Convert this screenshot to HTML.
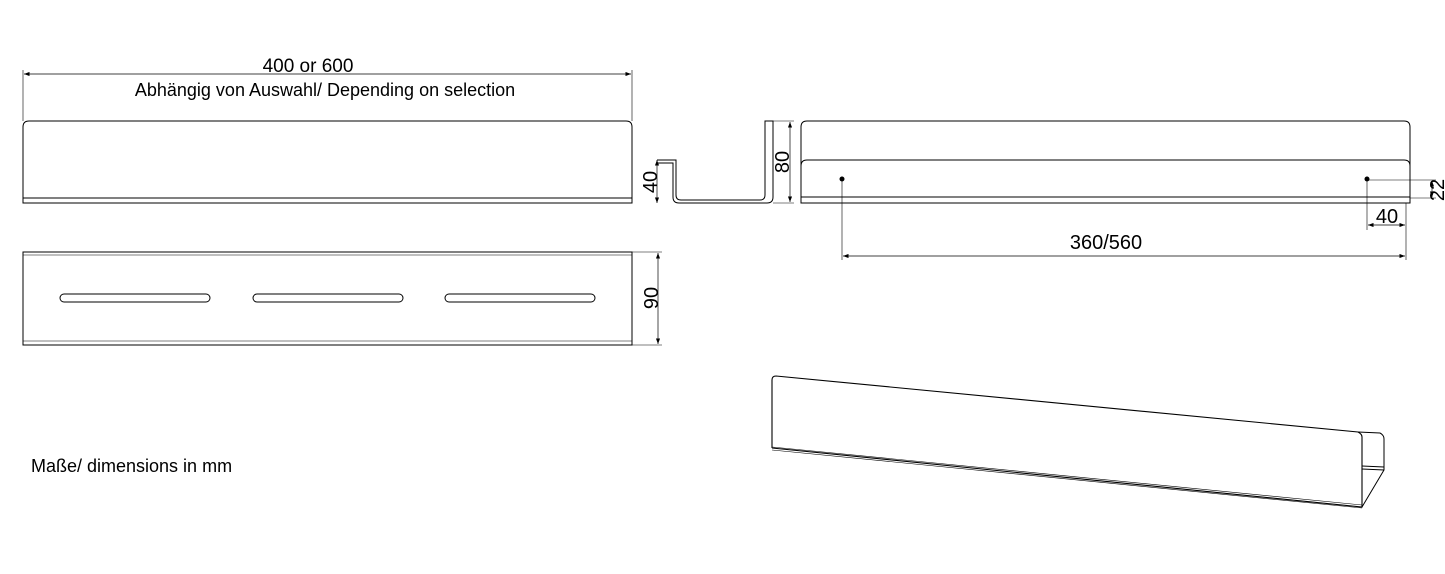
<!DOCTYPE html>
<html><head><style>body{margin:0;background:#fff}svg{display:block}text{font-family:"Liberation Sans",sans-serif;fill:#000}</style></head><body>
<svg width="1445" height="574" viewBox="0 0 1445 574" xmlns="http://www.w3.org/2000/svg">
<defs><marker id="a" viewBox="0 0 8 6" refX="8" refY="3" markerWidth="8" markerHeight="6" orient="auto-start-reverse"><path d="M0,0L8,3L0,6z" fill="#000"/></marker></defs>
<g fill="none" stroke="#000" stroke-width="1">
<line x1="23" y1="70" x2="23" y2="121" stroke-width=".6"/>
<line x1="632" y1="70" x2="632" y2="121" stroke-width=".6"/>
<line x1="24" y1="74" x2="631" y2="74" stroke-width=".7" marker-start="url(#a)" marker-end="url(#a)"/>
<path d="M23,203 V127 Q23,121 29,121 H626 Q632,121 632,127 V203 Z"/>
<line x1="23" y1="198" x2="632" y2="198"/>
<rect x="23" y="252" width="609" height="93"/>
<line x1="23" y1="255" x2="632" y2="255" stroke-width=".6"/>
<line x1="23" y1="341" x2="632" y2="341" stroke-width=".6"/>
<rect x="60" y="294" width="150" height="8" rx="4"/>
<rect x="253" y="294" width="150" height="8" rx="4"/>
<rect x="445" y="294" width="150" height="8" rx="4"/>
<line x1="632" y1="252" x2="662" y2="252" stroke-width=".6"/>
<line x1="632" y1="345" x2="662" y2="345" stroke-width=".6"/>
<line x1="658" y1="253" x2="658" y2="344" stroke-width=".7" marker-start="url(#a)" marker-end="url(#a)"/>
<path d="M657,160 H676 V195 Q676,200 681,200 H760 Q765,200 765,195 V121 H773 V197 Q773,203 767,203 H679 Q673,203 673,197 V163 H657"/>
<line x1="657" y1="160" x2="657" y2="203" stroke-width=".7" marker-start="url(#a)" marker-end="url(#a)"/>
<line x1="773" y1="121" x2="794" y2="121" stroke-width=".6"/>
<line x1="773" y1="203" x2="794" y2="203" stroke-width=".6"/>
<line x1="790" y1="122" x2="790" y2="202" stroke-width=".7" marker-start="url(#a)" marker-end="url(#a)"/>
<path d="M801,203 V127 Q801,121 807,121 H1404 Q1410,121 1410,127 V203 Z"/>
<path d="M801,166 Q801,160 807,160 H1404 Q1410,160 1410,166"/>
<line x1="801" y1="197" x2="1410" y2="197"/>
<line x1="842" y1="180" x2="842" y2="260" stroke-width=".6"/>
<line x1="1367" y1="180" x2="1367" y2="230" stroke-width=".6"/>
<line x1="1406" y1="203" x2="1406" y2="260" stroke-width=".6"/>
<line x1="843" y1="256" x2="1405" y2="256" stroke-width=".7" marker-start="url(#a)" marker-end="url(#a)"/>
<line x1="1368" y1="225" x2="1405" y2="225" stroke-width=".7" marker-start="url(#a)" marker-end="url(#a)"/>
<line x1="1367" y1="180" x2="1436" y2="180" stroke-width=".6"/>
<line x1="1410" y1="198" x2="1436" y2="198" stroke-width=".6"/>
<line x1="1432" y1="181" x2="1432" y2="197" stroke-width=".7" marker-start="url(#a)" marker-end="url(#a)"/>
<path d="M772,448 V380 Q772,376 776,376 L1358,432 Q1362,434 1362,437 V507 L772,448" stroke-width="1.1"/>
<line x1="772" y1="447" x2="1362" y2="505" stroke-width=".6"/>
<line x1="772" y1="450" x2="1362" y2="508" stroke-width=".6"/>
<path d="M1358,432 L1380,433 Q1384,435 1384,439 V470 L1362,507"/>
<line x1="1362" y1="466" x2="1384" y2="467"/>
<line x1="1362" y1="469" x2="1384" y2="470"/>
</g>
<circle cx="842" cy="179" r="2.5"/><circle cx="1367" cy="179" r="2.5"/>
<text x="308" y="72" font-size="19" text-anchor="middle">400 or 600</text>
<text x="325" y="96" font-size="18" text-anchor="middle">Abhängig von Auswahl/ Depending on selection</text>
<text x="1106" y="249" font-size="20" text-anchor="middle">360/560</text>
<text x="1387" y="223" font-size="20" text-anchor="middle">40</text>
<text transform="translate(657,182) rotate(-90)" font-size="20" text-anchor="middle">40</text>
<text transform="translate(789,162) rotate(-90)" font-size="20" text-anchor="middle">80</text>
<text transform="translate(658,298) rotate(-90)" font-size="20" text-anchor="middle">90</text>
<text transform="translate(1444,190) rotate(-90)" font-size="20" text-anchor="middle">22</text>
<text x="31" y="472" font-size="18">Maße/ dimensions in mm</text>
</svg>
</body></html>
